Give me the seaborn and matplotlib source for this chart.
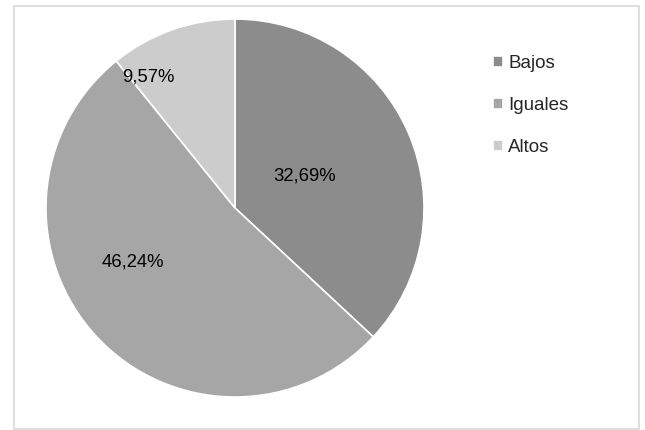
import numpy as np
import matplotlib
matplotlib.use("Agg")
import matplotlib.pyplot as plt
from matplotlib.patches import Rectangle
import seaborn as sns

categories = ["Bajos", "Iguales", "Altos"]
values = [32.69, 46.24, 9.57]
value_labels = ["32,69%", "46,24%", "9,57%"]
colors = ["#8c8c8c", "#a6a6a6", "#cccccc"]

sns.set_style("white")
plt.rcParams["font.family"] = ["Liberation Sans", "DejaVu Sans"]

fig = plt.figure(figsize=(6.45, 4.3), dpi=100)
# pie centre (235,208) px, radius 189 px
ax = fig.add_axes([46 / 645, 33 / 430, 378 / 645, 378 / 430])
wedges, texts = ax.pie(values, colors=colors, startangle=90, counterclock=False,
                       labels=value_labels, labeldistance=0.5,
                       wedgeprops=dict(edgecolor="white", linewidth=1.2),
                       textprops=dict(fontsize=13.3, color="#000000"))
# Excel-style label placement (radius units)
label_pos = [(0.37, 0.17), (-0.54, -0.286), (-0.46, 0.693)]
for t, (x, y) in zip(texts, label_pos):
    t.set_position((x, y))
    t.set_ha("center")
    t.set_va("center")
ax.set_xlim(-1, 1)
ax.set_ylim(-1, 1)
ax.set_aspect("equal")
ax.axis("off")

fig.legend(wedges, categories, loc="upper left",
           bbox_to_anchor=(493 / 645, 1 - 55 / 430), frameon=False,
           fontsize=13.5, handlelength=0.55, handleheight=0.55,
           handletextpad=0.25, labelspacing=1.33, borderpad=0, borderaxespad=0)

fig.patches.append(Rectangle((14 / 645, 1 / 430), 625 / 645, 423 / 430,
                             transform=fig.transFigure, fill=False,
                             edgecolor="#d9d9d9", linewidth=1.2))

fig.savefig("out.png", dpi=100, facecolor="white")
